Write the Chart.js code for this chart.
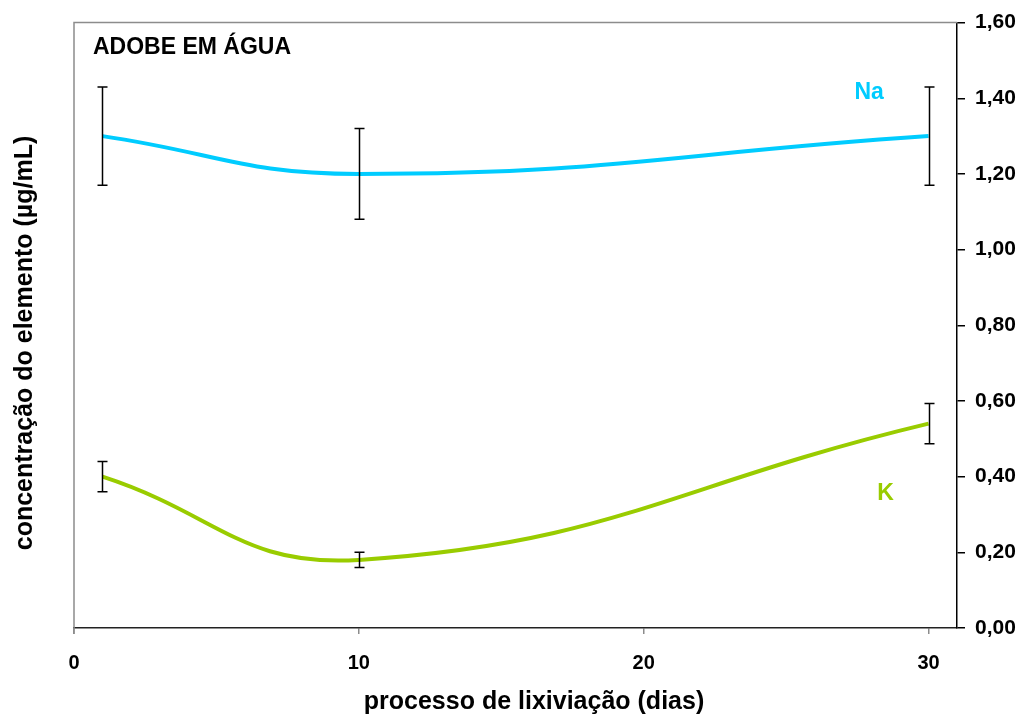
<!DOCTYPE html>
<html>
<head>
<meta charset="utf-8">
<script src="https://cdn.jsdelivr.net/npm/chart.js@4/dist/chart.umd.min.js"></script>
<style>
  html, body { margin: 0; padding: 0; background: #fff; }
  #wrap { width: 1022px; height: 717px; position: relative; }
</style>
</head>
<body>
<div id="wrap"><canvas id="chart"></canvas></div>
<script>
// leaching time (days) and element concentrations (µg/mL)
const days = [1, 10, 30];
const naValues = [1.30, 1.20, 1.30];
const naError = [0.13, 0.12, 0.13];
const kValues = [0.40, 0.18, 0.54];
const kError = [0.04, 0.02, 0.053];
const yTicks = [0, 0.2, 0.4, 0.6, 0.8, 1.0, 1.2, 1.4, 1.6];

const NA_COLOR = '#00CCFF';
const K_COLOR = '#99CC00';
const FONT = '"Liberation Sans", Arial, sans-serif';

function toPoints(xs, ys) {
    return xs.map(function (x, i) { return { x: x, y: ys[i] }; });
}

// vertical error bars with small caps, drawn on top of the lines
const errorBars = {
    id: 'errorBars',
    afterDatasetsDraw: function (chart) {
        const ctx = chart.ctx;
        const xs = chart.scales.x, ys = chart.scales.y;
        const sets = [[naValues, naError], [kValues, kError]];
        ctx.save();
        ctx.strokeStyle = '#000';
        ctx.lineWidth = 1.5;
        sets.forEach(function (s) {
            days.forEach(function (d, i) {
                const px = Math.round(xs.getPixelForValue(d)) + 0.5;
                const top = ys.getPixelForValue(s[0][i] + s[1][i]);
                const bot = ys.getPixelForValue(s[0][i] - s[1][i]);
                ctx.beginPath();
                ctx.moveTo(px, top); ctx.lineTo(px, bot);
                ctx.moveTo(px - 5, top); ctx.lineTo(px + 5, top);
                ctx.moveTo(px - 5, bot); ctx.lineTo(px + 5, bot);
                ctx.stroke();
            });
        });
        ctx.restore();
    }
};

// frame lines, series names, panel title and axis titles
const decorations = {
    id: 'decorations',
    beforeDatasetsDraw: function (chart) {
        const ctx = chart.ctx, a = chart.chartArea;
        ctx.save();
        ctx.strokeStyle = '#8c8c8c';
        ctx.lineWidth = 1.5;
        ctx.beginPath();
        ctx.moveTo(a.left, a.bottom + 6);
        ctx.lineTo(a.left, a.top);
        ctx.lineTo(a.right, a.top);
        ctx.stroke();
        ctx.restore();
    },
    afterDraw: function (chart) {
        const ctx = chart.ctx, a = chart.chartArea;
        const xs = chart.scales.x, ys = chart.scales.y;
        ctx.save();
        ctx.textBaseline = 'middle';

        ctx.fillStyle = '#000';
        ctx.textAlign = 'left';
        ctx.font = 'bold 23px ' + FONT;
        ctx.fillText('ADOBE EM ÁGUA', a.left + 19, 48);

        ctx.font = 'bold 23px ' + FONT;
        ctx.fillStyle = NA_COLOR;
        ctx.fillText('Na', xs.getPixelForValue(27.4), ys.getPixelForValue(1.415));
        ctx.fillStyle = K_COLOR;
        ctx.fillText('K', xs.getPixelForValue(28.2), ys.getPixelForValue(0.355));

        ctx.fillStyle = '#000';
        ctx.textAlign = 'center';
        ctx.font = 'bold 25px ' + FONT;
        ctx.fillText('processo de lixiviação (dias)', 534, 702);

        ctx.translate(25, 343);
        ctx.rotate(-Math.PI / 2);
        ctx.fillText('concentração do elemento (µg/mL)', 0, 0);
        ctx.restore();
    }
};

new Chart(document.getElementById('chart'), {
    type: 'line',
    data: {
        datasets: [
            {
                label: 'Na',
                data: toPoints(days, naValues),
                borderColor: NA_COLOR,
                borderWidth: 4,
                pointRadius: 0,
                tension: 0.45,
                fill: false
            },
            {
                label: 'K',
                data: toPoints(days, kValues),
                borderColor: K_COLOR,
                borderWidth: 4,
                pointRadius: 0,
                tension: 0.45,
                fill: false
            }
        ]
    },
    options: {
        responsive: true,
        maintainAspectRatio: false,
        animation: false,
        layout: { padding: { left: 74, top: 22, right: 0, bottom: 0 } },
        plugins: {
            legend: { display: false },
            tooltip: { enabled: false }
        },
        scales: {
            x: {
                type: 'linear',
                min: 0,
                max: 31,
                afterBuildTicks: function (scale) {
                    scale.ticks = [0, 10, 20, 30].map(function (v) { return { value: v }; });
                },
                afterFit: function (scale) { scale.height = 89; },
                grid: { drawOnChartArea: false, tickLength: 6, color: '#8c8c8c', lineWidth: 1.5 },
                border: { color: '#222', width: 1.5 },
                ticks: {
                    color: '#000',
                    padding: 17,
                    maxRotation: 0,
                    font: { family: FONT, size: 20, weight: 'bold' }
                }
            },
            y: {
                position: 'right',
                min: 0,
                max: 1.6,
                afterBuildTicks: function (scale) {
                    scale.ticks = yTicks.map(function (v) { return { value: v }; });
                },
                afterFit: function (scale) { scale.width = 65; },
                grid: { drawOnChartArea: false, tickLength: 8, color: '#000', lineWidth: 1.5 },
                border: { color: '#000', width: 1.5 },
                ticks: {
                    color: '#000',
                    padding: 10,
                    font: { family: FONT, size: 21, weight: 'bold' },
                    callback: function (v) { return v.toFixed(2).replace('.', ','); }
                }
            }
        }
    },
    plugins: [decorations, errorBars]
});
</script>
</body>
</html>
